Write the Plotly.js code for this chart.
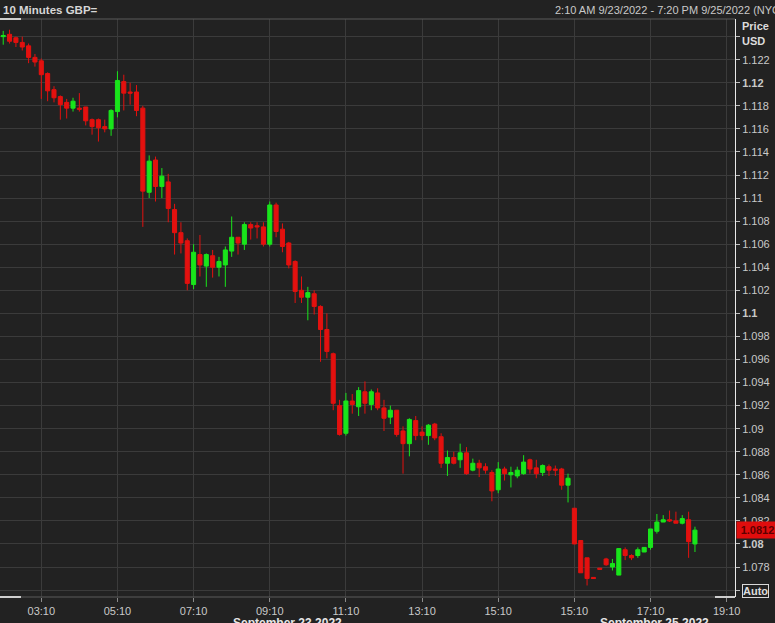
<!DOCTYPE html>
<html>
<head>
<meta charset="utf-8">
<script src="https://cdn.plot.ly/plotly-3.0.1.min.js"></script>
<style>
html,body{margin:0;padding:0;background:#222222;overflow:hidden;}
#chart{width:775px;height:623px;}
</style>
</head>
<body>
<div id="chart"></div>
<script>
// ---- Data (10-minute GBP= candles) ----
// Trading sessions: [date label, first bar time, number of bar slots on the axis]
const sessions = [
  ['09/23', '02:10', 90],
  ['09/25', '15:10', 26]
];

const open = [
 1.1240,1.1242,1.1239,1.1235,1.1232,1.1222,1.1219,1.1208,1.1194,1.1188,
 1.1183,1.1178,1.1178,1.1179,1.1168,1.1168,1.1162,1.1160,1.1175,1.1201,
 1.1192,1.1192,1.1178,1.1105,1.1133,1.1110,1.1114,1.1090,1.1070,1.1063,
 1.1025,1.1051,1.1041,1.1050,1.1040,1.1042,1.1054,1.1066,1.1060,1.1077,
 1.1076,1.1075,1.1060,1.1094,1.1073,1.1061,1.1045,1.1020,1.1014,1.1017,
 1.1006,1.0986,1.0965,1.0920,1.0896,1.0924,1.0919,1.0932,1.0921,1.0931,
 1.0918,1.0910,1.0916,1.0898,1.0887,1.0907,1.0897,1.0894,1.0904,1.0893,
 1.0870,1.0875,1.0873,1.0879,1.0864,1.0870,1.0867,1.0862,1.0847,1.0865,
 1.0860,1.0859,1.0861,1.0873,1.0866,1.0862,1.0867,1.0865,1.0865,1.0851,
 1.0831,1.0803,1.0788,1.0771,1.0779,1.0787,1.0780,1.0773,1.0795,1.0790,
 1.0790,1.0793,1.0797,1.0811,1.0819,1.0821,1.0820,1.0818,1.0821,1.0800
];
const high = [
 1.1245,1.1246,1.1240,1.1240,1.1234,1.1225,1.1221,1.1209,1.1197,1.1189,
 1.1186,1.1187,1.1191,1.1179,1.1169,1.1169,1.1168,1.1177,1.1210,1.1207,
 1.1200,1.1198,1.1180,1.1137,1.1136,1.1126,1.1121,1.1095,1.1079,1.1065,
 1.1060,1.1068,1.1052,1.1055,1.1049,1.1058,1.1084,1.1066,1.1079,1.1079,
 1.1079,1.1079,1.1097,1.1096,1.1078,1.1062,1.1046,1.1032,1.1023,1.1020,
 1.1007,1.1000,1.0966,1.0925,1.0931,1.0930,1.0936,1.0941,1.0934,1.0935,
 1.0925,1.0920,1.0916,1.0902,1.0909,1.0911,1.0902,1.0904,1.0905,1.0896,
 1.0881,1.0880,1.0887,1.0884,1.0874,1.0873,1.0870,1.0864,1.0871,1.0867,
 1.0867,1.0867,1.0877,1.0874,1.0873,1.0869,1.0869,1.0868,1.0866,1.0861,
 1.0831,1.0803,1.0788,1.0771,1.0779,1.0788,1.0787,1.0796,1.0797,1.0791,
 1.0797,1.0797,1.0813,1.0826,1.0825,1.0829,1.0828,1.0825,1.0828,1.0815
];
const low = [
 1.1233,1.1234,1.1231,1.1228,1.1217,1.1214,1.1186,1.1184,1.1183,1.1168,
 1.1169,1.1175,1.1175,1.1163,1.1155,1.1149,1.1157,1.1154,1.1170,1.1176,
 1.1181,1.1171,1.1075,1.1100,1.1097,1.1100,1.1079,1.1051,1.1052,1.1020,
 1.1021,1.1032,1.1023,1.1031,1.1032,1.1023,1.1049,1.1051,1.1055,1.1064,
 1.1065,1.1058,1.1058,1.1066,1.1053,1.1039,1.1009,1.1009,1.0994,1.0999,
 1.0958,1.0961,1.0916,1.0894,1.0894,1.0913,1.0911,1.0913,1.0916,1.0916,
 1.0898,1.0904,1.0893,1.0861,1.0876,1.0890,1.0890,1.0886,1.0890,1.0866,
 1.0859,1.0869,1.0866,1.0860,1.0863,1.0858,1.0861,1.0837,1.0844,1.0855,
 1.0849,1.0857,1.0860,1.0861,1.0857,1.0859,1.0859,1.0859,1.0847,1.0836,
 1.0800,1.0775,1.0764,1.0770,1.0778,1.0781,1.0777,1.0773,1.0786,1.0786,
 1.0788,1.0793,1.0795,1.0809,1.0819,1.0819,1.0818,1.0817,1.0788,1.0793
];
const close = [
 1.1241,1.1236,1.1235,1.1231,1.1222,1.1218,1.1207,1.1193,1.1187,1.1181,
 1.1178,1.1184,1.1177,1.1167,1.1162,1.1161,1.1160,1.1176,1.1202,1.1191,
 1.1191,1.1176,1.1106,1.1132,1.1110,1.1119,1.1091,1.1070,1.1061,1.1026,
 1.1053,1.1042,1.1051,1.1040,1.1045,1.1055,1.1066,1.1061,1.1077,1.1074,
 1.1075,1.1060,1.1094,1.1071,1.1058,1.1042,1.1019,1.1014,1.1018,1.1006,
 1.0986,1.0967,1.0922,1.0895,1.0924,1.0921,1.0933,1.0922,1.0932,1.0918,
 1.0909,1.0916,1.0895,1.0887,1.0908,1.0894,1.0894,1.0903,1.0892,1.0870,
 1.0875,1.0870,1.0879,1.0861,1.0870,1.0866,1.0864,1.0846,1.0865,1.0861,
 1.0862,1.0864,1.0871,1.0865,1.0861,1.0868,1.0864,1.0864,1.0851,1.0857,
 1.0800,1.0775,1.0770,1.0770,1.0778,1.0782,1.0783,1.0796,1.0790,1.0788,
 1.0795,1.0797,1.0813,1.0819,1.0821,1.0820,1.0818,1.0822,1.0802,1.0812
];

const tickTimes = ['09/23 03:10','09/23 05:10','09/23 07:10','09/23 09:10','09/23 11:10',
                   '09/23 13:10','09/23 15:10','09/25 15:10','09/25 17:10','09/25 19:10'];
const yTickValues = [1.076,1.078,1.080,1.082,1.084,1.086,1.088,1.090,1.092,1.094,1.096,1.098,1.100,
                     1.102,1.104,1.106,1.108,1.110,1.112,1.114,1.116,1.118,1.120,1.122,1.124];
const yTickLabels = ['','1.078','<b>1.08</b>','1.082','1.084','1.086','1.088','1.09','1.092','1.094','1.096','1.098','<b>1.1</b>',
                     '1.102','1.104','1.106','1.108','1.11','1.112','1.114','1.116','1.118','<b>1.12</b>','1.122',''];
const lastPrice = 1.0812;

// ---- Build the bar-slot time axis ----
const slots = [];
sessions.forEach(([d, t, n]) => {
  let [h, m] = t.split(':').map(Number);
  let mins = h * 60 + m;
  for (let k = 0; k < n; k++) {
    const mm = mins + k * 10;
    const hh = String(Math.floor(mm / 60)).padStart(2, '0');
    const mi = String(mm % 60).padStart(2, '0');
    slots.push(d + ' ' + hh + ':' + mi);
  }
});
const xPos = open.map((_, i) => i);
const tickvals = tickTimes.map(t => slots.indexOf(t));
const ticktext = tickTimes.map(t => t.split(' ')[1]);

// ---- Geometry helpers (pixel -> paper) ----
const W = 775, H = 623, ML = 0, MR = 40, MT = 19, MB = 26;
const PW = W - ML - MR, PH = H - MT - MB;
const px = x => (x - ML) / PW;
const py = y => 1 - (y - MT) / PH;

const RED = '#e3110f', GREEN = '#19e51b';
const TXT = '#c9c9c9';
const FONT = 'Liberation Sans, Arial, sans-serif';

const trace = {
  type: 'candlestick',
  x: xPos, open: open, high: high, low: low, close: close,
  increasing: {line: {color: GREEN, width: 1}, fillcolor: GREEN},
  decreasing: {line: {color: RED, width: 1}, fillcolor: RED},
  whiskerwidth: 0,
  hoverinfo: 'skip',
  showlegend: false
};

const layout = {
  width: W, height: H,
  margin: {l: ML, r: MR, t: MT, b: MB, pad: 0},
  paper_bgcolor: '#222222',
  plot_bgcolor: '#222222',
  boxgap: 0.2, boxgroupgap: 0.2,
  showlegend: false,
  font: {family: FONT, color: TXT, size: 11},
  xaxis: {
    type: 'linear',
    range: [-0.507, 115.31],
    tickmode: 'array', tickvals: tickvals, ticktext: ticktext,
    showgrid: true, gridcolor: '#3b3b3b', gridwidth: 1,
    zeroline: false, showline: false,
    ticks: 'outside', ticklen: 4, tickcolor: '#8a8a8a',
    tickfont: {family: FONT, size: 11, color: TXT},
    rangeslider: {visible: false},
    fixedrange: true
  },
  yaxis: {
    side: 'right',
    range: [1.07540, 1.12553],
    tickmode: 'array', tickvals: yTickValues, ticktext: yTickLabels,
    showgrid: true, gridcolor: '#3b3b3b', gridwidth: 1,
    zeroline: false,
    showline: true, linecolor: '#e8e8e8', linewidth: 1,
    ticks: 'outside', ticklen: 4, tickcolor: '#bdbdbd',
    tickfont: {family: FONT, size: 11, color: TXT},
    fixedrange: true
  },
  shapes: [
    {type: 'line', xref: 'paper', yref: 'paper', x0: 0, x1: 1, y0: 1, y1: 1, line: {color: '#5a5a5a', width: 1}},
    {type: 'line', xref: 'paper', yref: 'paper', x0: 0, x1: 1, y0: 0, y1: 0, line: {color: '#5a5a5a', width: 1}},
    {type: 'line', xref: 'paper', yref: 'paper', x0: 0, x1: px(21), y0: 1, y1: 1, line: {color: '#ffffff', width: 1.5}},
    {type: 'line', xref: 'paper', yref: 'paper', x0: 0, x1: px(21), y0: 0, y1: 0, line: {color: '#ffffff', width: 1.5}},
    {type: 'line', xref: 'paper', yref: 'paper', x0: px(715), x1: 1, y0: 0, y1: 0, line: {color: '#ffffff', width: 1.5}}
  ],
  annotations: [
    {xref: 'paper', yref: 'paper', x: px(1), y: py(10), xanchor: 'left', yanchor: 'middle',
     text: '<b>10 Minutes GBP=</b>', showarrow: false, font: {family: FONT, size: 11.5, color: '#d6d6d6'}},
    {xref: 'paper', yref: 'paper', x: px(553), y: py(10), xanchor: 'left', yanchor: 'middle',
     text: '2:10 AM 9/23/2022 - 7:20 PM 9/25/2022 (NYC)', showarrow: false,
     font: {family: FONT, size: 11, color: TXT}},
    {xref: 'paper', yref: 'paper', x: px(740), y: py(26), xanchor: 'left', yanchor: 'middle',
     text: '<b>Price</b>', showarrow: false, font: {family: FONT, size: 11, color: '#dcdcdc'}},
    {xref: 'paper', yref: 'paper', x: px(740), y: py(41), xanchor: 'left', yanchor: 'middle',
     text: '<b>USD</b>', showarrow: false, font: {family: FONT, size: 11, color: '#dcdcdc'}},
    {xref: 'paper', yref: 'y', x: px(736), y: lastPrice, xanchor: 'left', yanchor: 'middle',
     text: '<b>' + lastPrice.toFixed(4) + '</b>', showarrow: false, bgcolor: '#e00d0d', borderpad: 2,
     width: 37, align: 'center',
     font: {family: FONT, size: 11, color: '#5c0000'}},
    {xref: 'paper', yref: 'paper', x: px(742), y: py(590.5), xanchor: 'left', yanchor: 'middle',
     text: '<b>Auto</b>', showarrow: false, bordercolor: '#d8d8d8', borderwidth: 1, borderpad: 0,
     font: {family: FONT, size: 11, color: '#dcdcdc'}},
    {xref: 'paper', yref: 'paper', x: px(287), y: py(614), xanchor: 'center', yanchor: 'top',
     text: '<b>September 23 2022</b>', showarrow: false, font: {family: FONT, size: 12, color: '#e6e6e6'}},
    {xref: 'paper', yref: 'paper', x: px(654), y: py(614), xanchor: 'center', yanchor: 'top',
     text: '<b>September 25 2022</b>', showarrow: false, font: {family: FONT, size: 12, color: '#e6e6e6'}}
  ]
};

Plotly.newPlot('chart', [trace], layout, {displayModeBar: false, staticPlot: true});
</script>
</body>
</html>
